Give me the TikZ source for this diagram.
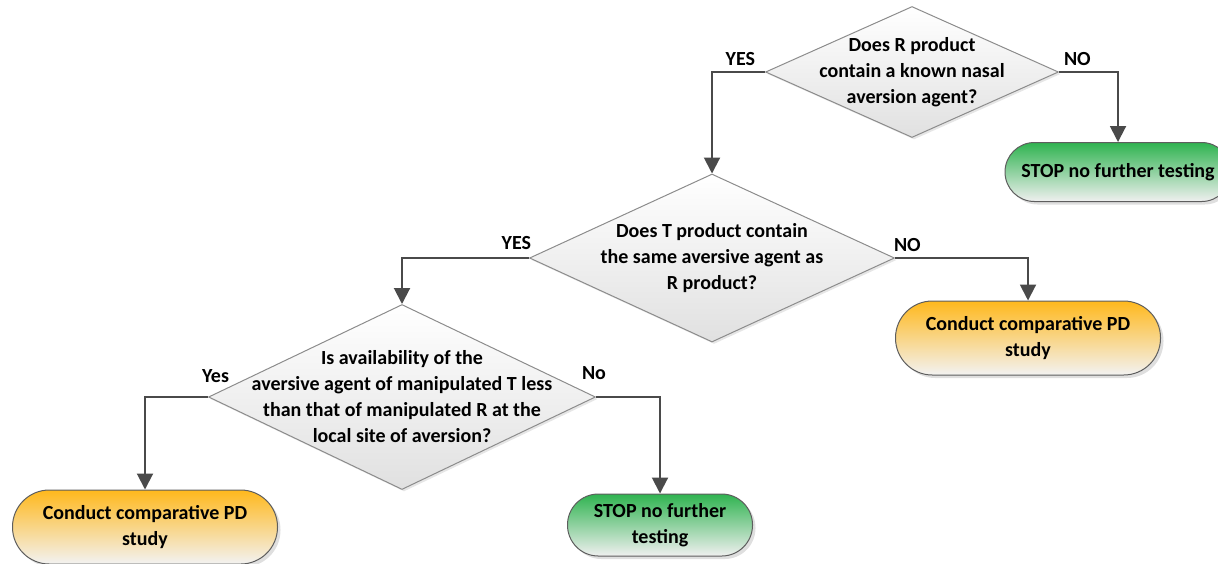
\documentclass[tikz,border=0pt]{standalone}
\usepackage{fontspec}
\setmainfont{Carlito}
\usetikzlibrary{shapes.geometric, arrows.meta, shadows}

\definecolor{flowline}{HTML}{4A4A4A}
\definecolor{boxedge}{HTML}{5E5E5E}
\definecolor{stopgreen}{HTML}{2FB350}
\definecolor{pdorange}{HTML}{FFB81C}

\tikzset{
  question/.style={diamond, draw=black!45, line width=0.5pt, inner sep=0pt,
    top color=white, bottom color=black!12,
    drop shadow={shadow xshift=1pt, shadow yshift=-1pt, opacity=0.2}},
  qtext/.style={font=\fontsize{10}{13}\selectfont\bfseries, align=center, inner sep=0pt},
  stopbox/.style={rectangle, draw=boxedge, line width=0.5pt, align=center,
    font=\fontsize{10}{13}\selectfont\bfseries, inner sep=0pt,
    top color=stopgreen, bottom color=black!6,
    drop shadow={shadow xshift=1.5pt, shadow yshift=-1.5pt, opacity=0.25}},
  pdbox/.style={stopbox, top color=pdorange, bottom color=black!5},
  flow/.style={draw=flowline, line width=1pt},
  answer/.style={font=\fontsize{10}{13}\selectfont\bfseries, inner sep=0pt, pos=0}
}

\begin{document}
\begin{tikzpicture}[x=0.5pt, y=-0.5pt, ->, >={Triangle[width=8pt,length=8pt]}]
  \useasboundingbox (0,0) rectangle (1218,563);

  % Questions
  \node[question, minimum width=146.5pt, minimum height=65.5pt,
    label={[qtext]center:Does R product\\contain a known nasal\\aversion agent?}] (askR) at (912,72) {};
  \node[question, minimum width=182.5pt, minimum height=84pt,
    label={[qtext]center:Does T product contain\\the same aversive agent as\\R product?}] (askT) at (712,258) {};
  \node[question, minimum width=193.5pt, minimum height=92.5pt,
    label={[qtext]center:Is availability of the\\aversive agent of manipulated T less\\than that of manipulated R at the\\local site of aversion?}] (askAvail) at (402,397) {};

  % Outcomes
  \node[stopbox, minimum width=113pt, minimum height=29.5pt, rounded corners=14.7pt] (stopR) at (1118,172) {STOP no further testing};
  \node[pdbox, minimum width=132.5pt, minimum height=37pt, rounded corners=18.4pt] (pdT) at (1028,338) {Conduct comparative PD\\study};
  \node[pdbox, minimum width=132.5pt, minimum height=37pt, rounded corners=18.4pt] (pdAvail) at (145,527) {Conduct comparative PD\\study};
  \node[stopbox, minimum width=92.5pt, minimum height=31pt, rounded corners=15.4pt] (stopAvail) at (660,525) {STOP no further\\testing};

  % Connectors
  \draw[flow] (askR.west) -| node[answer, anchor=base east, xshift=-4.5pt, yshift=3.5pt] (yesR) {YES} (askT.north);
  \draw[flow] (askR.east) -| node[answer, anchor=base west, xshift=2pt, yshift=3.5pt] (noR) {NO} (stopR.north);
  \draw[flow] (askT.west) -| node[answer, anchor=base east, xshift=1.5pt, yshift=4.5pt] (yesT) {YES} (askAvail.north);
  \draw[flow] (askT.east) -| node[answer, anchor=base west, xshift=-1pt, yshift=3.5pt] (noT) {NO} (pdT.north);
  \draw[flow] (askAvail.west) -| node[answer, anchor=base east, xshift=11pt, yshift=7.5pt] (yesAvail) {Yes} (pdAvail.north);
  \draw[flow] (askAvail.east) -| node[answer, anchor=base west, xshift=-7.5pt, yshift=9pt] (noAvail) {No} (stopAvail.north);
\end{tikzpicture}
\end{document}
